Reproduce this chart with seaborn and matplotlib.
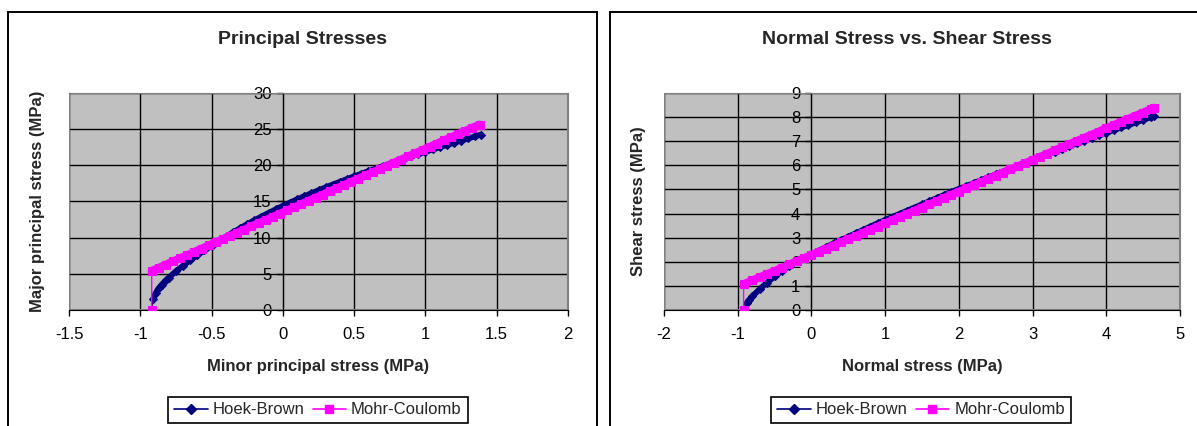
import pandas as pd
import matplotlib
matplotlib.use("Agg")
import matplotlib.pyplot as plt
from matplotlib.lines import Line2D
from matplotlib.patches import Rectangle
from matplotlib.ticker import FuncFormatter
import seaborn as sns

# --- DADOS ---
# Tensões principais: sigma3 (menor) x sigma1 (maior)
hb_s3 = [-0.92, -0.91, -0.89, -0.87, -0.85, -0.82, -0.80, -0.75, -0.70, -0.65,
         -0.60, -0.55, -0.50, -0.45, -0.40, -0.35, -0.30, -0.25, -0.20, -0.15,
         -0.10, -0.05, 0.00, 0.05, 0.10, 0.15, 0.20, 0.25, 0.30, 0.35,
         0.40, 0.45, 0.50, 0.55, 0.60, 0.65, 0.70, 0.75, 0.80, 0.85,
         0.90, 0.95, 1.00, 1.05, 1.10, 1.15, 1.20, 1.25, 1.30, 1.35, 1.39]
hb_s1 = [0.0, 1.5, 2.4, 3.0, 3.5, 4.1, 4.49, 5.34, 6.13, 6.87,
         7.57, 8.24, 8.88, 9.50, 10.12, 10.72, 11.30, 11.86, 12.40, 12.92,
         13.42, 13.91, 14.40, 14.85, 15.29, 15.72, 16.14, 16.55, 16.95, 17.34,
         17.72, 18.10, 18.47, 18.83, 19.19, 19.54, 19.89, 20.23, 20.57, 20.90,
         21.23, 21.55, 21.87, 22.19, 22.50, 22.81, 23.12, 23.42, 23.72, 24.02, 24.25]

mc_s3 = [-0.92, -0.92, -0.87, -0.82, -0.77, -0.72, -0.67, -0.62, -0.57, -0.52,
         -0.47, -0.42, -0.37, -0.32, -0.27, -0.22, -0.17, -0.12, -0.07, -0.02,
         0.03, 0.08, 0.13, 0.18, 0.23, 0.28, 0.33, 0.38, 0.43, 0.48,
         0.53, 0.58, 0.63, 0.68, 0.73, 0.78, 0.83, 0.88, 0.93, 0.98,
         1.03, 1.08, 1.13, 1.18, 1.23, 1.28, 1.33, 1.38]
mc_s1 = [0.0, 5.40, 5.84, 6.28, 6.72, 7.16, 7.60, 8.04, 8.48, 8.92,
         9.36, 9.80, 10.24, 10.68, 11.12, 11.56, 12.00, 12.44, 12.88, 13.32,
         13.76, 14.20, 14.64, 15.08, 15.52, 15.96, 16.40, 16.84, 17.28, 17.72,
         18.16, 18.60, 19.04, 19.48, 19.92, 20.36, 20.80, 21.24, 21.68, 22.12,
         22.56, 23.00, 23.44, 23.88, 24.32, 24.76, 25.20, 25.64]

# Tensão normal x tensão cisalhante
hb_sn = [-0.92, -0.88, -0.85, -0.80, -0.70, -0.60, -0.50, -0.40, -0.30, -0.20,
         -0.10, 0.0, 0.1, 0.2, 0.3, 0.4, 0.5, 0.6, 0.7, 0.8,
         0.9, 1.0, 1.1, 1.2, 1.3, 1.4, 1.5, 1.6, 1.7, 1.8,
         1.9, 2.0, 2.1, 2.2, 2.3, 2.4, 2.5, 2.6, 2.7, 2.8,
         2.9, 3.0, 3.1, 3.2, 3.3, 3.4, 3.5, 3.6, 3.7, 3.8,
         3.9, 4.0, 4.1, 4.2, 4.3, 4.4, 4.5, 4.6, 4.65]
hb_tau = [0.00, 0.28, 0.40, 0.57, 0.87, 1.14, 1.39, 1.62, 1.83, 2.02,
          2.17, 2.30, 2.46, 2.61, 2.76, 2.90, 3.04, 3.18, 3.32, 3.46,
          3.60, 3.73, 3.86, 3.99, 4.12, 4.25, 4.38, 4.51, 4.64, 4.77,
          4.90, 5.02, 5.14, 5.26, 5.38, 5.50, 5.62, 5.74, 5.86, 5.98,
          6.10, 6.22, 6.34, 6.45, 6.57, 6.68, 6.79, 6.91, 7.02, 7.13,
          7.24, 7.35, 7.46, 7.57, 7.67, 7.78, 7.89, 7.99, 8.04]

mc_sn = [-0.92, -0.92, -0.8, -0.7, -0.6, -0.5, -0.4, -0.3, -0.2, -0.1,
         0.0, 0.1, 0.2, 0.3, 0.4, 0.5, 0.6, 0.7, 0.8, 0.9,
         1.0, 1.1, 1.2, 1.3, 1.4, 1.5, 1.6, 1.7, 1.8, 1.9,
         2.0, 2.1, 2.2, 2.3, 2.4, 2.5, 2.6, 2.7, 2.8, 2.9,
         3.0, 3.1, 3.2, 3.3, 3.4, 3.5, 3.6, 3.7, 3.8, 3.9,
         4.0, 4.1, 4.2, 4.3, 4.4, 4.5, 4.6, 4.65]
mc_tau = [0.00, 1.07, 1.23, 1.36, 1.49, 1.62, 1.75, 1.89, 2.02, 2.15,
          2.28, 2.41, 2.54, 2.67, 2.81, 2.94, 3.07, 3.20, 3.33, 3.46,
          3.59, 3.73, 3.86, 3.99, 4.12, 4.25, 4.38, 4.51, 4.65, 4.78,
          4.91, 5.04, 5.17, 5.30, 5.43, 5.57, 5.70, 5.83, 5.96, 6.09,
          6.22, 6.35, 6.48, 6.62, 6.75, 6.88, 7.01, 7.14, 7.27, 7.40,
          7.54, 7.67, 7.80, 7.93, 8.06, 8.19, 8.32, 8.39]

MODELS = ["Hoek-Brown", "Mohr-Coulomb"]
CORES = {"Hoek-Brown": "#000080", "Mohr-Coulomb": "#FF00FF"}
MARCADORES = {"Hoek-Brown": "D", "Mohr-Coulomb": "s"}
TAM_MARCADOR = {"Hoek-Brown": 4.5, "Mohr-Coulomb": 6.0}
# espessura da "faixa" formada pelos marcadores sobrepostos no Excel
FAIXA = {"Hoek-Brown": 4.2, "Mohr-Coulomb": 5.8}

# --- CONFIGURAÇÕES ---
W, H = 1197, 426
FONTE = ["Liberation Sans", "DejaVu Sans"]

sns.set_style("white")
plt.rcParams["font.family"] = FONTE
plt.rcParams["axes.unicode_minus"] = False


def monta_df(x_hb, y_hb, x_mc, y_mc):
    df_hb = pd.DataFrame({"x": x_hb, "y": y_hb, "modelo": MODELS[0]})
    df_mc = pd.DataFrame({"x": x_mc, "y": y_mc, "modelo": MODELS[1]})
    return pd.concat([df_hb, df_mc], ignore_index=True)


def px(x0, y0, x1, y1):
    # retangulo em pixels (origem no topo) -> fração da figura
    return [x0 / W, 1 - y1 / H, (x1 - x0) / W, (y1 - y0) / H]


def desenha_painel(fig, rect, df, xlim, xticks, ylim, yticks,
                   titulo, xlabel, ylabel, moldura, centro_x, leg_x, ylabel_x):
    ax = fig.add_axes(rect)
    ax.set_facecolor("#C0C0C0")

    for i, m in enumerate(MODELS):
        sub = df[df["modelo"] == m]
        z = 3 + i
        # faixa grossa (sem o primeiro ponto, o do corte de tração)
        sns.lineplot(data=sub.iloc[1:], x="x", y="y", ax=ax, sort=False,
                     estimator=None, color=CORES[m], linewidth=FAIXA[m],
                     legend=False, zorder=z)
        sns.lineplot(data=sub, x="x", y="y", ax=ax, sort=False, estimator=None,
                     color=CORES[m], marker=MARCADORES[m],
                     markersize=TAM_MARCADOR[m], markeredgecolor=CORES[m],
                     linewidth=1, legend=False, zorder=z + 0.5)

    ax.set_xlim(*xlim)
    ax.set_ylim(*ylim)
    ax.set_xticks(xticks)
    ax.set_yticks(yticks)
    fmt = FuncFormatter(lambda v, p: f"{v:g}")
    ax.xaxis.set_major_formatter(fmt)
    ax.yaxis.set_major_formatter(fmt)
    ax.grid(True, color="black", linewidth=1)
    ax.set_axisbelow(True)

    # eixo vertical cruzando em x = 0 (estilo Excel)
    ax.spines["left"].set_position(("data", 0))
    ax.spines["left"].set_color("black")
    ax.spines["left"].set_zorder(2.5)
    ax.spines["bottom"].set_color("black")
    ax.spines["top"].set_color("#808080")
    ax.spines["right"].set_color("#808080")
    ax.add_patch(Rectangle((0, 0), 1, 1, transform=ax.transAxes, fill=False,
                           edgecolor="#808080", linewidth=1.5, zorder=1))
    ax.tick_params(axis="both", direction="out", length=4, width=1,
                   labelsize=12, colors="black", bottom=True, left=True)
    ax.tick_params(axis="x", pad=8)
    ax.tick_params(axis="y", pad=4)

    ax.set_xlabel("")
    ax.set_ylabel("")
    x_mid = rect[0] + rect[2] / 2
    fig.text(centro_x / W, 1 - 39 / H, titulo, ha="center", va="center",
             fontsize=14, fontweight="bold")
    fig.text(x_mid, 1 - 366 / H, xlabel, ha="center", va="center",
             fontsize=12, fontweight="bold")
    fig.text(ylabel_x / W, rect[1] + rect[3] / 2, ylabel, ha="center",
             va="center", rotation=90, fontsize=12, fontweight="bold")

    handles = [Line2D([], [], color=CORES[m], marker=MARCADORES[m],
                      markersize=6 if m == "Mohr-Coulomb" else 5,
                      linewidth=1.2) for m in MODELS]
    leg = ax.legend(handles, MODELS, loc="center", ncol=2,
                    bbox_to_anchor=(leg_x / W, 1 - 410 / H),
                    bbox_transform=fig.transFigure, fontsize=12, frameon=True,
                    fancybox=False, edgecolor="black", framealpha=1,
                    handlelength=2.0, handletextpad=0.3, columnspacing=0.5,
                    borderpad=0.35)
    leg.get_frame().set_linewidth(1.2)

    fig.add_artist(Rectangle(moldura[:2], moldura[2], moldura[3],
                             transform=fig.transFigure, fill=False,
                             edgecolor="black", linewidth=1.4))
    return ax


def main():
    fig = plt.figure(figsize=(W / 100, H / 100), dpi=100)

    df1 = monta_df(hb_s3, hb_s1, mc_s3, mc_s1)
    desenha_painel(fig, px(69, 93, 568, 310), df1,
                   (-1.5, 2), [-1.5, -1, -0.5, 0, 0.5, 1, 1.5, 2],
                   (0, 30), [0, 5, 10, 15, 20, 25, 30],
                   "Principal Stresses", "Minor principal stress (MPa)",
                   "Major principal stress (MPa)",
                   px(8, 12, 597, 440), 303, 318, 38)

    df2 = monta_df(hb_sn, hb_tau, mc_sn, mc_tau)
    desenha_painel(fig, px(664, 93, 1180, 310), df2,
                   (-2, 5), [-2, -1, 0, 1, 2, 3, 4, 5],
                   (0, 9), list(range(10)),
                   "Normal Stress vs. Shear Stress", "Normal stress (MPa)",
                   "Shear stress (MPa)",
                   px(610, 12, 1210, 440), 907, 921, 639)

    fig.savefig("out.png", dpi=100)
    plt.close(fig)


if __name__ == "__main__":
    main()
